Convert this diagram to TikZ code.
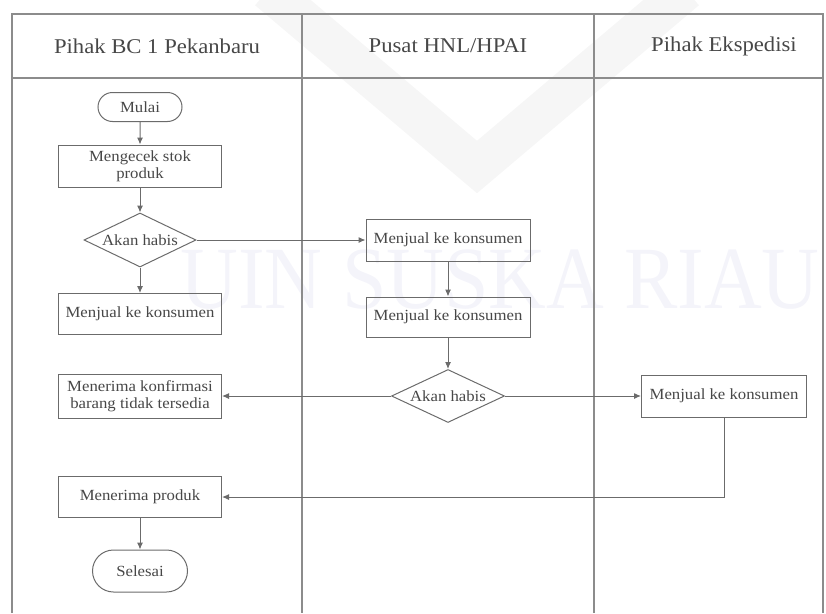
\documentclass[tikz,border=0pt]{standalone}
\usepackage{fontspec}
\setmainfont{Liberation Serif}[FakeStretch=1.08]
\usetikzlibrary{shapes.geometric,shapes.misc,arrows.meta}

\definecolor{inkline}{gray}{0.42}
\definecolor{laneline}{gray}{0.55}
\definecolor{inktext}{gray}{0.28}
\definecolor{wmark}{RGB}{244,244,250}
\definecolor{wlogo}{gray}{0.965}

\tikzset{
  every node/.style={text=inktext},
  box/.style={draw=inkline, line width=1pt, rectangle, align=center,
    minimum width=163pt, minimum height=41pt, inner sep=2pt,
    font=\fontsize{15.5}{17}\selectfont},
  term/.style={draw=inkline, line width=1pt, rounded rectangle, align=center,
    inner sep=2pt, font=\fontsize{15.5}{17}\selectfont},
  decide/.style={draw=inkline, line width=1pt, diamond, aspect=2.1, inner sep=0pt,
    minimum width=112pt, minimum height=54pt,
    font=\fontsize{15.5}{17}\selectfont},
  lane/.style={draw=laneline, line width=1.6pt},
  head/.style={font=\fontsize{21}{24}\selectfont},
  arr/.style={draw=inkline, line width=1pt, -{Latex[length=7pt,width=6pt]}},
}

\begin{document}
\begin{tikzpicture}[x=1pt, y=-1pt]
\useasboundingbox (0,0) rectangle (826,613);

% faint background seal and lettering
\draw[wlogo, line width=40pt, line join=miter] (268,-10) -- (477,167) -- (686,-10);
\node[anchor=base, text=wmark, inner sep=0pt] (wm) at (500,308)
  {\scalebox{1}[1.2]{\fontsize{74}{80}\selectfont UIN SUSKA RIAU}};

% swimlane frame
\draw[lane] (12,613) -- (12,14) -- (823,14) -- (823,613);
\draw[lane] (12,78) -- (823,78);
\draw[lane] (302,14) -- (302,613);
\draw[lane] (594,14) -- (594,613);

% lane titles
\node[head] (h1) at (157,46) {Pihak BC 1 Pekanbaru};
\node[head] (h2) at (448,46) {Pusat HNL/HPAI};
\node[head] (h3) at (724,46) {Pihak Ekspedisi};

% Pihak BC 1 Pekanbaru
\node[term, minimum width=88pt, minimum height=29pt] (mulai) at (140,107) {Mulai};
\node[box, minimum height=42pt] (cek) at (140,166) {Mengecek stok\\produk};
\node[decide] (d1) at (140,240) {Akan habis};
\node[box] (jual1) at (140,314) {Menjual ke konsumen};
\node[box, minimum height=44pt] (konf) at (140,396) {Menerima konfirmasi\\barang tidak tersedia};
\node[box] (terima) at (140,497) {Menerima produk};
\node[term, minimum width=99pt, minimum height=42pt] (selesai) at (140,571) {Selesai};

% Pusat HNL/HPAI
\node[box, minimum width=164pt, minimum height=42pt] (jual2) at (448,240) {Menjual ke konsumen};
\node[box, minimum width=164pt, minimum height=40pt] (jual3) at (448,317) {Menjual ke konsumen};
\node[decide, minimum width=113pt, minimum height=53pt] (d2) at (448,396) {Akan habis};

% Pihak Ekspedisi
\node[box, minimum width=165pt, minimum height=42pt] (jual4) at (724,396) {Menjual ke konsumen};

% flow
\draw[arr] (mulai) -- (cek);
\draw[arr] (cek) -- (d1);
\draw[arr] (d1) -- (jual1);
\draw[arr] (d1) -- (jual2);
\draw[arr] (jual2) -- (jual3);
\draw[arr] (jual3) -- (d2);
\draw[arr] (d2) -- (konf);
\draw[arr] (d2) -- (jual4);
\draw[arr] (jual4.south) |- (terima.east);
\draw[arr] (terima) -- (selesai);
\end{tikzpicture}
\end{document}
